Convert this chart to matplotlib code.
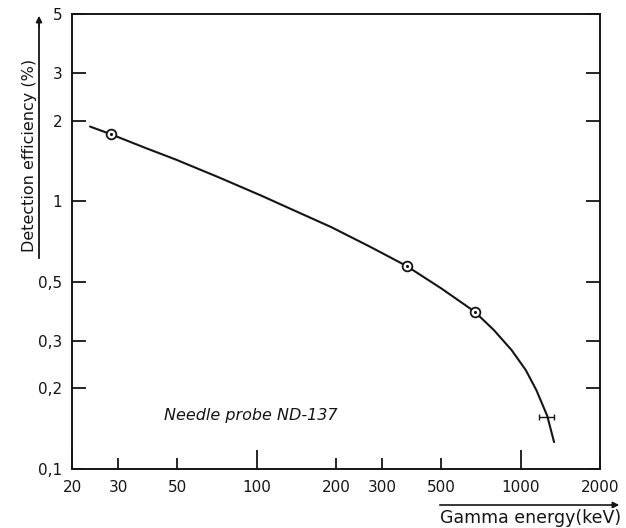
import matplotlib.pyplot as plt
import numpy as np
from matplotlib.ticker import FixedLocator, FixedFormatter, NullFormatter

# efficiency curve of the needle probe (keV, %)
curve_e = [23.4, 28.0, 38, 49.5, 71.6, 104, 140, 192, 270, 370, 500, 670,
           793, 925, 1047, 1148, 1262, 1340]
curve_eff = [1.90, 1.78, 1.58, 1.43, 1.23, 1.05, 0.92, 0.80, 0.675, 0.573, 0.473, 0.387,
             0.330, 0.278, 0.234, 0.197, 0.158, 0.126]

# measured calibration points
meas_e = [28.0, 370, 670]
meas_eff = [1.78, 0.573, 0.387]

# single point with horizontal error bar
err_e = 1255
err_eff = 0.156
err_lo = 85
err_hi = 85

xmajor = [20, 100, 1000]
xminor = [30, 50, 200, 300, 500, 2000]
yticks = [0.1, 0.2, 0.3, 0.5, 1, 2, 3, 5]
ylabels = ['0,1', '0,2', '0,3', '0,5', '1', '2', '3', '5']

ink = '#151515'

fig = plt.figure(figsize=(6.26, 5.28), dpi=100)
ax = fig.add_axes([72 / 626, 1 - 469 / 528, 528 / 626, 455 / 528])
ax.set_xscale('log')
ax.set_yscale('log')
ax.set_xlim(20, 2000)
ax.set_ylim(0.1, 5)

ax.plot(curve_e, curve_eff, color=ink, lw=1.5, solid_capstyle='round',
        solid_joinstyle='round')
ax.plot(meas_e, meas_eff, 'o', ms=7, mfc='white', mec=ink, mew=1.3)
ax.plot(meas_e, meas_eff, '.', ms=2.5, color=ink)
ax.errorbar([err_e], [err_eff], xerr=[[err_lo], [err_hi]], fmt='none',
            ecolor=ink, elinewidth=1.0, capsize=2.5, capthick=1.0)

ax.xaxis.set_major_locator(FixedLocator(xmajor))
ax.xaxis.set_major_formatter(FixedFormatter([str(v) for v in xmajor]))
ax.xaxis.set_minor_locator(FixedLocator(xminor))
ax.xaxis.set_minor_formatter(FixedFormatter([str(v) for v in xminor]))
ax.yaxis.set_major_locator(FixedLocator(yticks))
ax.yaxis.set_major_formatter(FixedFormatter(ylabels))
ax.yaxis.set_minor_locator(FixedLocator([]))
ax.yaxis.set_minor_formatter(NullFormatter())

ax.tick_params(axis='x', which='major', direction='in', length=14, width=1.3,
               pad=8, labelsize=11, colors=ink)
ax.tick_params(axis='x', which='minor', direction='in', length=8, width=1.3,
               pad=8, labelsize=11, colors=ink)
ax.tick_params(axis='y', which='major', direction='in', length=10, width=1.3,
               pad=7, labelsize=11, colors=ink, right=True)

for s in ax.spines.values():
    s.set_linewidth(1.4)
    s.set_color(ink)

ax.text(0.339, 0.117, 'Needle probe ND-137', transform=ax.transAxes,
        ha='center', va='center', fontsize=11.5, style='italic', color=ink)

# axis titles with arrows
fig.text(30 / 626, 1 - 155 / 528, 'Detection efficiency (%)', rotation=90,
         ha='center', va='center', fontsize=11.5, color=ink)
fig.add_artist(plt.Line2D([39 / 626, 39 / 626], [1 - 258 / 528, 1 - 20 / 528],
                          color=ink, lw=1.3))
fig.text(531 / 626, 1 - 518 / 528, 'Gamma energy(keV)', ha='center', va='center',
         fontsize=12.5, color=ink)
ax.annotate('', xy=(622 / 626, 1 - 505 / 528), xytext=(437 / 626, 1 - 505 / 528),
            xycoords='figure fraction', textcoords='figure fraction',
            arrowprops=dict(arrowstyle='-|>', color=ink, lw=1.2, mutation_scale=9))
ax.annotate('', xy=(39 / 626, 1 - 13 / 528), xytext=(39 / 626, 1 - 30 / 528),
            xycoords='figure fraction', textcoords='figure fraction',
            arrowprops=dict(arrowstyle='-|>', color=ink, lw=1.2, mutation_scale=9))

fig.savefig('out.png', dpi=100)
